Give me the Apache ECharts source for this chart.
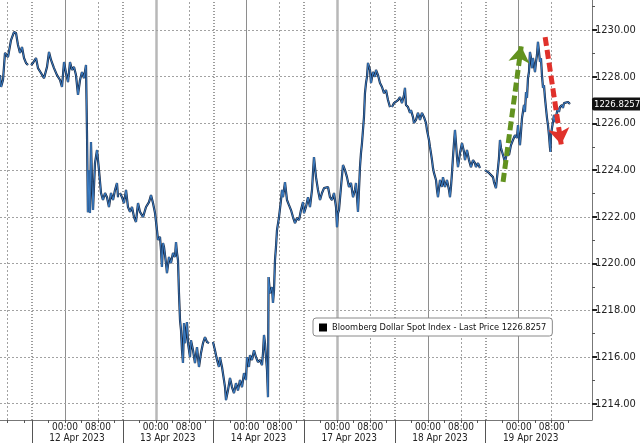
<!DOCTYPE html>
<html>
<head>
<meta charset="utf-8">
<script src="https://cdn.jsdelivr.net/npm/echarts@6/dist/echarts.min.js"></script>
<style>
  html, body { margin: 0; padding: 0; background: #fff; }
  #ec { width: 640px; height: 443px; }
</style>
</head>
<body>
<div id="ec"></div>
<script>
const SERIES_NAME = "Bloomberg Dollar Spot Index - Last Price";
const LAST_PRICE = 1226.8257;

// x is trading time in hours: every session is 22h (16:00 -> 14:00 next day),
// the 12 Apr session starts at 22, 13 Apr at 44 ...
const times = [
  14.24, 14.50, 14.97, 15.45, 16.18, 16.91, 17.63, 18.12, 18.60, 19.09,
  19.57, 20.06, 20.54, 21.03, 21.40, 21.76, 22.24, 22.97, 23.45, 24.18,
  24.91, 25.64, 26.12, 26.61, 27.33, 28.06, 28.79, 29.27, 29.76, 30.24,
  30.73, 31.21, 31.70, 32.18, 32.66, 33.15, 33.64, 34.12, 34.60, 35.09,
  35.33, 35.55, 35.82, 36.05, 36.30, 36.55, 36.79, 37.27, 37.76, 38.24,
  38.73, 39.21, 39.70, 40.18, 40.66, 41.15, 41.64, 42.12, 42.60, 42.85,
  43.10, 43.33, 43.82, 44.30, 44.79, 45.27, 45.76, 46.24, 46.73, 47.21,
  47.70, 48.18, 48.91, 49.64, 50.36, 50.85, 51.33, 51.82, 52.30, 52.54,
  53.03, 53.27, 53.50, 53.76, 54.00, 54.48, 54.72, 55.21, 55.69, 56.18,
  56.66, 56.91, 57.15, 57.39, 57.63, 57.88, 58.12, 58.36, 58.60, 58.85,
  59.09, 59.57, 59.82, 60.30, 60.54, 61.03, 61.51, 62.00, 62.48, 62.97,
  63.45, 63.94, 64.42, 64.91, 65.30, 65.88, 66.36, 66.85, 67.33, 67.57,
  68.06, 68.54, 68.79, 69.03, 69.51, 70.00, 70.48, 70.97, 71.45, 71.94,
  72.42, 72.91, 73.39, 73.88, 74.12, 74.60, 74.85, 75.33, 75.82, 76.30,
  76.79, 77.27, 77.76, 78.00, 78.24, 78.48, 78.73, 78.97, 79.21, 79.35,
  79.70, 80.18, 80.42, 80.67, 80.91, 81.15, 81.39, 81.88, 82.36, 82.61,
  82.85, 83.33, 83.82, 84.30, 84.79, 85.27, 85.76, 86.24, 86.73, 87.21,
  87.70, 87.94, 88.42, 88.91, 89.39, 89.88, 90.12, 90.36, 90.85, 91.33,
  91.82, 92.30, 92.79, 93.27, 93.76, 94.24, 94.73, 95.21, 95.70, 95.94,
  96.18, 96.42, 96.91, 97.39, 97.88, 98.36, 98.85, 99.33, 99.82, 100.30,
  100.54, 100.79, 101.03, 101.27, 101.51, 101.75, 102.00, 102.24, 102.48, 102.72,
  102.97, 103.21, 103.45, 103.94, 104.18, 104.66, 105.15, 105.39, 105.88, 106.36,
  106.85, 107.33, 107.82, 108.30, 108.79, 109.00, 109.27, 109.76, 110.24, 110.73,
  111.21, 111.70, 112.18, 112.42, 112.66, 113.15, 113.64, 113.88, 114.36, 114.60,
  115.09, 115.57, 116.06, 116.54, 117.03, 117.51, 117.75, 118.00, 118.24, 118.48,
  118.72, 118.97, 119.21, 119.45, 119.94, 120.18, 120.42, 120.91, 121.39, 121.63,
  122.12, 122.60, 123.09, 123.33, 123.57, 123.82, 124.06, 124.30, 124.54, 124.79,
  125.03, 125.27, 125.76, 126.24, 126.73, 126.97, 127.45, 127.94, 128.42, 128.91,
  129.39, 129.63, 130.12, 130.60, 131.20, 131.82, 132.30, 132.79, 133.27, 133.76,
  134.00, 134.48, 134.72, 134.97, 135.21, 135.45, 135.70, 136.18, 136.66, 137.15,
  137.64, 138.12, 138.60, 139.09, 139.57, 139.82, 140.06, 140.30, 140.54, 140.79,
  141.27, 141.51, 141.76, 142.00, 142.24, 142.48, 142.72, 142.97, 143.21, 143.45,
  143.70, 143.94, 144.18, 144.42, 144.66, 144.91, 145.15, 145.39, 145.63, 145.88,
  146.12, 146.36, 146.60, 146.85, 147.09, 147.33, 147.57, 147.70, 147.82, 148.06,
  148.30, 148.54, 148.79, 149.03, 149.27, 149.51, 149.76, 150.00, 150.24, 150.48,
  150.72, 150.97, 151.45, 151.94, 152.42
];

// null = break in the line
const prices = [
  1228.07, 1227.56, 1227.86, 1229.02, 1228.84, 1229.57, 1229.91, 1229.87, 1229.36, 1229.02,
  1229.27, 1228.80, 1228.59, 1228.50, null, 1228.50, 1228.59, 1228.80, 1228.37, 1228.16,
  1227.94, 1228.42, 1229.06, 1228.72, 1228.37, 1228.07, 1227.86, 1227.56, 1228.63, 1228.16,
  1227.77, 1228.63, 1228.29, 1228.42, 1228.07, 1227.22, 1227.86, 1228.20, 1227.94, 1228.50,
  1225.59, 1222.20, 1224.00, 1222.16, 1225.20, 1223.50, 1222.29, 1224.30, 1224.86, 1224.00,
  1223.02, 1222.72, 1223.02, 1222.84, 1222.42, 1223.02, 1222.72, 1223.15, 1223.45, 1222.84,
  null, 1223.02, 1222.84, 1222.59, 1223.15, 1222.42, 1222.21, 1222.42, 1221.99, 1221.78,
  1222.59, 1222.21, 1221.99, 1222.42, 1222.63, 1222.93, 1222.59, 1222.16, 1221.43, 1221.01,
  1221.14, 1220.58, 1219.85, 1220.88, 1220.71, 1220.02, 1219.59, 1220.28, 1220.02, 1220.45,
  1220.28, 1220.92, 1220.45, 1220.15, 1218.73, 1217.58, 1217.15, 1216.29, 1215.74, 1217.45,
  1216.59, 1217.49, 1216.59, 1215.99, 1216.72, 1216.29, 1215.74, 1216.42, 1215.57, 1216.17,
  1216.59, 1216.85, 1216.64, 1216.59, null, 1216.64, 1216.29, 1215.87, 1215.57, 1215.99,
  1215.57, 1215.01, 1214.71, 1214.15, 1214.57, 1215.10, 1214.71, 1214.45, 1214.88, 1214.57,
  1215.01, 1214.71, 1215.31, 1215.01, 1215.99, 1215.57, 1216.08, 1215.87, 1216.29, 1215.99,
  1215.78, 1215.87, 1215.65, 1216.17, 1216.94, 1216.59, 1215.99, 1215.44, 1214.28, 1219.42,
  1218.73, 1218.99, 1218.31, 1218.86, 1220.15, 1220.71, 1221.43, 1221.99, 1222.72, 1223.15,
  1222.84, 1223.49, 1222.72, 1222.50, 1222.29, 1221.99, 1221.73, 1221.95, 1221.86, 1222.29,
  1222.63, 1222.16, 1222.42, 1222.84, 1222.42, 1223.15, 1223.88, 1224.56, 1223.70, 1223.15,
  1222.72, 1223.02, 1223.23, 1223.15, 1223.28, 1222.84, 1222.72, 1223.02, 1222.42, 1221.56,
  1222.16, 1222.29, 1223.28, 1224.22, 1224.00, 1223.70, 1223.28, 1223.45, 1222.84, 1223.15,
  1223.45, 1222.84, 1222.21, 1223.15, 1224.13, 1224.73, 1225.16, 1225.72, 1226.27, 1227.30,
  1227.73, 1227.99, 1228.59, 1228.29, 1227.73, 1228.20, 1227.99, 1228.29, 1228.07, 1227.73,
  1227.56, 1227.30, 1227.43, 1227.00, 1226.70, null, 1226.70, 1226.87, 1226.79, 1227.00,
  1227.13, 1226.87, 1227.22, 1227.52, 1226.79, 1226.70, 1226.45, 1226.57, 1226.27, 1226.02,
  1226.15, 1226.45, 1226.15, 1226.45, 1226.27, 1226.02, 1225.72, 1225.50, 1225.29, 1224.99,
  1224.73, 1224.43, 1224.09, 1223.88, 1223.58, 1223.15, 1222.84, 1223.58, 1223.28, 1223.70,
  1223.28, 1223.58, 1223.15, 1222.84, 1223.28, 1223.88, 1224.56, 1225.16, 1225.72, 1225.16,
  1224.56, 1224.13, 1224.73, 1225.16, 1224.78, 1224.43, 1224.86, 1224.43, 1224.13, 1224.43,
  1224.30, 1224.13, 1224.30, 1224.09, null, 1224.00, 1223.92, 1223.88, 1223.92, 1223.70,
  1223.49, 1223.23, 1223.66, 1224.09, 1224.52, 1225.29, 1224.95, 1224.65, 1224.35, 1224.73,
  1224.65, 1225.07, 1225.29, 1225.50, 1225.38, 1225.93, 1225.38, 1225.07, 1225.63, 1226.23,
  1226.79, 1226.49, 1227.34, 1227.09, 1227.94, 1228.20, 1229.06, 1228.80, 1228.37, 1228.80,
  1228.50, 1228.20, 1228.63, 1228.93, 1229.49, 1229.06, 1228.63, 1228.80, 1228.07, 1227.52,
  1227.64, 1227.09, 1226.66, 1226.23, 1225.93, 1225.50, 1224.95, 1224.78, 1225.50, 1225.80,
  1226.06, 1226.36, 1226.06, 1226.27, 1226.49, 1226.66, 1226.49, 1226.70, 1226.66, 1226.79,
  1226.66, 1226.87, 1226.87, 1226.92, 1226.83
];

const sessionStarts = [22, 44, 66, 88, 110, 132];
const sessionDates = ["12 Apr 2023", "13 Apr 2023", "14 Apr 2023", "17 Apr 2023", "18 Apr 2023", "19 Apr 2023"];
const midnights = [30, 52, 74, 96, 118, 140];
const thickMidnights = [52, 96];
const mornings = [16, 38, 60, 82, 104, 126, 148];
const yTicks = [1214, 1216, 1218, 1220, 1222, 1224, 1226, 1228, 1230];
const yMinorTicks = [1215, 1217, 1219, 1221, 1223, 1225, 1227, 1229, 1231];

// annotation arrows [start, end] in (time, price)
const greenArrow = [[136.2, 1223.5], [140.6, 1229.3]];
const redArrow = [[146.4, 1229.7], [150.3, 1225.1]];

const X_MIN = 14.24, X_MAX = 157.76;
const Y_MIN = 1213.30, Y_MAX = 1231.285;
const FONT = '"DejaVu Sans Condensed", "DejaVu Sans", sans-serif';

const lineData = times.map((t, i) => [t, prices[i] === null ? '-' : prices[i]]);

const hourTicks = [];
sessionStarts.concat([0]).forEach((s) => {
  [4, 8, 12, 16, 20].forEach((h) => {
    const v = s + h;
    if (v > X_MIN && v < X_MAX) hourTicks.push(v);
  });
});
const timeLabelPos = midnights.concat(mornings.filter((m) => m > 20));
const dateLabelPos = sessionStarts.map((s) => s + 10.9);

const dotted = [2, 2];
const gridLines = []
  .concat(sessionStarts.map((v) => ({ xAxis: v, lineStyle: { color: '#9c9c9c', width: 2, type: [1, 2] } })))
  .concat(mornings.map((v) => ({ xAxis: v, lineStyle: { color: '#a2a2a2', width: 1, type: dotted } })))
  .concat(midnights.map((v) => thickMidnights.includes(v)
    ? { xAxis: v, lineStyle: { color: '#b8b8b8', width: 2.5, type: 'solid' } }
    : { xAxis: v, lineStyle: { color: '#8e8e8e', width: 1, type: 'solid' } }))
  .concat(yTicks.map((v) => ({ yAxis: v, lineStyle: { color: '#a2a2a2', width: 1, type: dotted } })));

const chart = echarts.init(document.getElementById('ec'));
chart.setOption({
  animation: false,
  grid: { left: 0, right: 48, top: 0, bottom: 23, outerBoundsMode: 'none' },
  legend: {
    left: 313,
    top: 318,
    data: [{ name: SERIES_NAME, icon: 'rect', itemStyle: { color: '#000' } }],
    formatter: (name) => name + ' ' + LAST_PRICE.toFixed(4),
    selectedMode: false,
    backgroundColor: '#fff',
    borderColor: '#8a8a8a',
    borderWidth: 1,
    borderRadius: 3,
    padding: [5, 6, 4, 6],
    itemWidth: 8,
    itemHeight: 8,
    itemGap: 4,
    textStyle: { fontSize: 9.2, color: '#111', fontFamily: FONT },
  },
  xAxis: [
    {
      type: 'value',
      min: X_MIN,
      max: X_MAX,
      axisLine: { show: true, lineStyle: { color: '#777' } },
      axisTick: { show: true, customValues: hourTicks, length: 3, lineStyle: { color: '#555' } },
      axisLabel: {
        customValues: timeLabelPos,
        formatter: (v) => ((v % 22) === 8 ? '00:00' : '08:00'),
        margin: 2,
        fontSize: 10,
        color: '#222',
        fontFamily: FONT,
      },
      splitLine: { show: false },
    },
    {
      type: 'value',
      min: X_MIN,
      max: X_MAX,
      position: 'bottom',
      axisLine: { show: false },
      axisTick: { show: true, customValues: sessionStarts, length: 24, lineStyle: { color: '#555' } },
      axisLabel: {
        customValues: dateLabelPos,
        formatter: (v) => sessionDates[Math.round((v - 32.9) / 22)],
        margin: 13,
        fontSize: 10,
        color: '#222',
        fontFamily: FONT,
      },
      splitLine: { show: false },
    },
  ],
  yAxis: [
    {
      type: 'value',
      position: 'right',
      min: Y_MIN,
      max: Y_MAX,
      axisLine: { show: true, lineStyle: { color: '#777' } },
      axisTick: { show: true, customValues: yTicks, length: 5, lineStyle: { color: '#222', width: 2 } },
      axisLabel: {
        customValues: yTicks,
        formatter: (v) => v.toFixed(2),
        margin: 3,
        fontSize: 11,
        color: '#222',
        fontFamily: FONT,
      },
      splitLine: { show: false },
    },
    {
      type: 'value',
      position: 'right',
      min: Y_MIN,
      max: Y_MAX,
      axisLine: { show: false },
      axisTick: { show: true, customValues: yMinorTicks, length: 3, lineStyle: { color: '#555' } },
      axisLabel: { show: false },
      splitLine: { show: false },
    },
  ],
  series: [
    {
      name: 'grid',
      type: 'line',
      data: [],
      silent: true,
      z: 1,
      markLine: {
        z: 1,
        silent: true,
        symbol: 'none',
        label: { show: false },
        emphasis: { disabled: true },
        data: gridLines,
      },
    },
    {
      name: SERIES_NAME,
      type: 'line',
      data: lineData,
      showSymbol: false,
      connectNulls: false,
      z: 3,
      itemStyle: { color: '#000' },
      lineStyle: { color: '#17253f', width: 2.2 },
      markLine: {
        z: 10,
        silent: true,
        symbol: 'none',
        emphasis: { disabled: true },
        lineStyle: { color: 'rgba(0,0,0,0)', width: 1, type: 'solid' },
        label: {
          show: true,
          position: 'end',
          distance: 0,
          formatter: LAST_PRICE.toFixed(4),
          backgroundColor: '#111',
          color: '#fff',
          padding: [2, 2, 1, 2],
          borderRadius: 2,
          fontSize: 9.5,
          fontFamily: FONT,
        },
        data: [{ yAxis: LAST_PRICE }],
      },
    },
    {
      name: 'overlay',
      type: 'line',
      data: lineData,
      showSymbol: false,
      connectNulls: false,
      z: 4,
      itemStyle: { color: '#3f88d4' },
      lineStyle: { color: '#3f88d4', width: 0.9 },
      markLine: {
        z: 10,
        silent: true,
        symbol: ['none', 'arrow'],
        symbolSize: 16,
        label: { show: false },
        emphasis: { disabled: true },
        data: [
          [
            { coord: greenArrow[0], itemStyle: { color: '#62921f' }, lineStyle: { color: '#62921f', width: 5, type: [9, 4] } },
            { coord: greenArrow[1] },
          ],
          [
            { coord: redArrow[0], itemStyle: { color: '#e0312b' }, lineStyle: { color: '#e0312b', width: 5, type: [9, 4] } },
            { coord: redArrow[1] },
          ],
        ],
      },
    },
  ],
});
</script>
</body>
</html>
